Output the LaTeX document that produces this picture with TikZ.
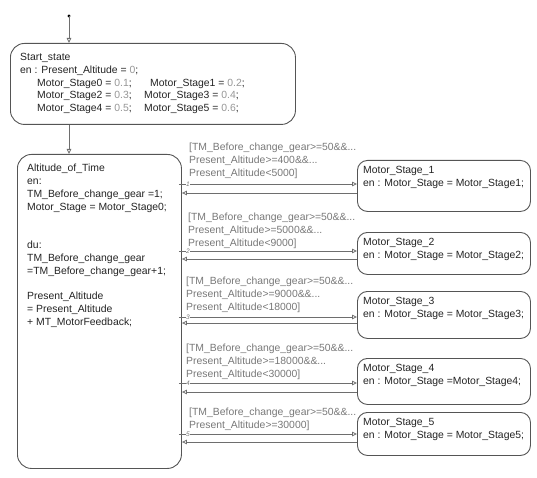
\documentclass[tikz,border=0pt]{standalone}
\usepackage{fontspec}
\setmainfont{Liberation Sans}
\usepackage{tikz}
\usetikzlibrary{arrows.meta,positioning}
\usepackage{xcolor}
\definecolor{boxgray}{RGB}{85,85,85}
\definecolor{linegray}{RGB}{110,110,110}
\definecolor{txtgray}{RGB}{35,35,35}
\definecolor{guardgray}{RGB}{120,120,120}
\definecolor{valgray}{RGB}{150,150,150}
\newcommand{\gval}[1]{\textcolor{valgray}{#1}}

\begin{document}
\begin{tikzpicture}[
  x=1pt, y=-1pt,
  font=\fontsize{10.4}{12.8}\selectfont,
  state/.style={draw=boxgray, line width=0.9pt, rounded corners=14pt, anchor=north west, inner sep=0pt},
  stage/.style={state, rounded corners=10pt, minimum width=173pt},
  txt/.style={align=left, inner sep=0pt, text=txtgray},
  guard/.style={align=left, inner sep=0pt, text=guardgray, anchor=north west},
  num/.style={fill=white, inner sep=0.4pt, text=guardgray, font=\fontsize{6.5}{6.5}\selectfont\itshape},
  arrow/.style={draw=linegray, line width=0.8pt, -{Triangle[open, length=5pt, width=4.5pt]}}
]
\useasboundingbox (0,0) rectangle (537,478);

\fill[black] (69,16) circle (1.6pt) coordinate (dot);

\node[state, minimum width=285pt, minimum height=81pt] (start) at (10,43) {};
\node[txt, below right=10pt and 10pt of start.north west] (starttxt) {Start\_state\\
en : Present\_Altitude = \gval{0};\\
\hspace*{17pt}\makebox[113pt][l]{Motor\_Stage0 = \gval{0.1};}Motor\_Stage1 = \gval{0.2};\\
\hspace*{17pt}\makebox[107pt][l]{Motor\_Stage2 = \gval{0.3};}Motor\_Stage3 = \gval{0.4};\\
\hspace*{17pt}\makebox[107pt][l]{Motor\_Stage4 = \gval{0.5};}Motor\_Stage5 = \gval{0.6};};

\node[state, minimum width=164pt, minimum height=314pt] (alt) at (17,154) {};
\node[txt, below right=10pt and 10pt of alt.north west] (alttxt) {Altitude\_of\_Time\\
en:\\
TM\_Before\_change\_gear =1;\\
Motor\_Stage = Motor\_Stage0;\\[12.8pt]
\\
du:\\
TM\_Before\_change\_gear\\
=TM\_Before\_change\_gear+1;\\
\\
Present\_Altitude\\
= Present\_Altitude\\
+ MT\_MotorFeedback;};

\node[stage, minimum height=51pt] (s1) at (357,160) {};
\node[stage, minimum height=42pt] (s2) at (357,232) {};
\node[stage, minimum height=47pt] (s3) at (357,291) {};
\node[stage, minimum height=46pt] (s4) at (357,358) {};
\node[stage, minimum height=43pt] (s5) at (357,412) {};
\node[txt, below right=6.5pt and 6pt of s1.north west] (s1txt) {Motor\_Stage\_1\\en : Motor\_Stage = Motor\_Stage1;};
\node[txt, below right=6.5pt and 6pt of s2.north west] (s2txt) {Motor\_Stage\_2\\en : Motor\_Stage = Motor\_Stage2;};
\node[txt, below right=6.5pt and 6pt of s3.north west] (s3txt) {Motor\_Stage\_3\\en : Motor\_Stage = Motor\_Stage3;};
\node[txt, below right=6.5pt and 6pt of s4.north west] (s4txt) {Motor\_Stage\_4\\en : Motor\_Stage =Motor\_Stage4;};
\node[txt, below right=6.5pt and 6pt of s5.north west] (s5txt) {Motor\_Stage\_5\\en : Motor\_Stage = Motor\_Stage5;};

\node[guard] (g1) at (189,143) {[TM\_Before\_change\_gear>=50\&\&...\\Present\_Altitude>=400\&\&...\\Present\_Altitude<5000]};
\node[guard] (g2) at (188,213) {[TM\_Before\_change\_gear>=50\&\&...\\Present\_Altitude>=5000\&\&...\\Present\_Altitude<9000]};
\node[guard] (g3) at (186,277) {[TM\_Before\_change\_gear>=50\&\&...\\Present\_Altitude>=9000\&\&...\\Present\_Altitude<18000]};
\node[guard] (g4) at (186,344) {[TM\_Before\_change\_gear>=50\&\&...\\Present\_Altitude>=18000\&\&...\\Present\_Altitude<30000]};
\node[guard] (g5) at (189,408) {[TM\_Before\_change\_gear>=50\&\&...\\Present\_Altitude>=30000]};

\coordinate (t1) at (188,184);
\coordinate (t2) at (188,251);
\coordinate (t3) at (188,317);
\coordinate (t4) at (188,383);
\coordinate (t5) at (188,434);
\coordinate (r1) at (188,193);
\coordinate (r2) at (188,259);
\coordinate (r3) at (188,323);
\coordinate (r4) at (188,392);
\coordinate (r5) at (188,442);

\draw[arrow] (dot) -- (start.north -| dot);
\draw[arrow] (start.south -| dot) -- (alt.north -| dot);

\draw[arrow] (alt.east |- t1) ++(-3pt,0) -- (s1.west |- t1);
\draw[arrow] (alt.east |- t2) ++(-3pt,0) -- (s2.west |- t2);
\draw[arrow] (alt.east |- t3) ++(-3pt,0) -- (s3.west |- t3);
\draw[arrow] (alt.east |- t4) ++(-3pt,0) -- (s4.west |- t4);
\draw[arrow] (alt.east |- t5) ++(-3pt,0) -- (s5.west |- t5);
\draw[arrow] (s1.west |- r1) -- (alt.east |- r1);
\draw[arrow] (s2.west |- r2) -- (alt.east |- r2);
\draw[arrow] (s3.west |- r3) -- (alt.east |- r3);
\draw[arrow] (s4.west |- r4) -- (alt.east |- r4);
\draw[arrow] (s5.west |- r5) -- (alt.east |- r5);

\node[num] (n1) at (t1) {1};
\node[num] (n2) at (t2) {2};
\node[num] (n3) at (t3) {3};
\node[num] (n4) at (t4) {4};
\node[num] (n5) at (t5) {5};

\end{tikzpicture}
\end{document}
